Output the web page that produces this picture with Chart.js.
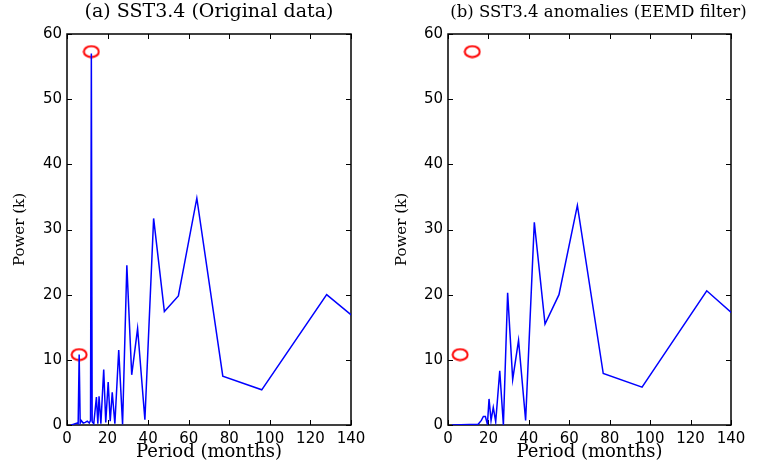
<!DOCTYPE html>
<html>
<head>
<meta charset="utf-8">
<script src="https://cdn.jsdelivr.net/npm/chart.js@4.4.0/dist/chart.umd.min.js"></script>
<style>
body { margin: 0; background: #fff; }
#wrap { position: relative; width: 763px; height: 463px; overflow: hidden; }
canvas { position: absolute; top: 0; }
</style>
</head>
<body>
<div id="wrap">
  <canvas id="chartA" width="418" height="463" style="left:0px"></canvas>
  <canvas id="chartB" width="413" height="463" style="left:392px"></canvas>
</div>
<script>
// Panel (a): original data
var periodsA = [2, 3, 4, 5, 5.5, 6, 6.5, 7, 8, 9, 10, 11, 11.6, 12, 12.4, 13.2, 14.5, 15.2, 15.8, 16.7,
    18.1, 19.1, 20.3, 21.3, 22.3, 23.6, 25.5, 27.4, 29.5, 31.9, 34.8, 38.4, 42.7, 48, 54.9, 64, 76.8, 96, 128, 192];
var powerA = [0, 0.1, 0.2, 0.3, 0.2, 10.8, 0.3, 0.7, 0.3, 0.4, 0.6, 0.3, 0.7, 57.0, 0.5, 0.2, 4.3, 0.2, 4.4, 0.2,
    8.5, 0.4, 6.6, 0.6, 5.0, 0.2, 11.5, 0.1, 24.5, 7.7, 14.8, 0.8, 31.7, 17.4, 19.8, 34.8, 7.5, 5.4, 20.0, 3.5];

// Panel (b): anomalies after EEMD filter
var periodsB = [2, 14.9, 16.5, 17.5, 18.5, 19.5, 20.3, 21.3, 22.4, 23.6, 25.6, 27.4, 29.5, 32, 34.9, 38.4,
    42.7, 48, 54.9, 64, 76.8, 96, 128, 192];
var powerB = [0, 0.1, 0.7, 1.3, 1.3, 0.1, 4.0, 0.7, 2.7, 0.5, 8.3, 0, 20.3, 7.0, 13.0, 0.7,
    31.1, 15.5, 20.0, 33.7, 7.9, 5.8, 20.6, 3.0];

// Red markers (semiannual and annual peaks)
var markPeriods = [12, 6];
var markPower = [57.3, 10.8];

var titleA = '(a) SST3.4 (Original data)';
var titleB = '(b) SST3.4 anomalies (EEMD filter)';
var xTitle = 'Period (months)';
var yTitle = 'Power (k)';

// ellipse used as point style for the markers
function makeEllipse() {
    var c = document.createElement('canvas');
    c.width = 18;
    c.height = 14;
    var g = c.getContext('2d');
    g.strokeStyle = '#ff0000';
    g.lineWidth = 2;
    g.beginPath();
    g.ellipse(9, 7, 7.5, 5.5, 0, 0, Math.PI * 2);
    g.stroke();
    return c;
}

// MATLAB style box with inward ticks
var boxTicks = {
    id: 'boxTicks',
    beforeDatasetsDraw: function(chart) {
        var ctx = chart.ctx;
        var a = chart.chartArea;
        var xs = chart.scales.x;
        var ys = chart.scales.y;
        ctx.save();
        ctx.strokeStyle = '#000';
        ctx.lineWidth = 1.5;
        ctx.strokeRect(a.left, a.top, a.right - a.left, a.bottom - a.top);
        ctx.lineWidth = 1;
        ctx.beginPath();
        xs.ticks.forEach(function(t) {
            var px = Math.round(xs.getPixelForValue(t.value)) + 0.5;
            ctx.moveTo(px, a.bottom); ctx.lineTo(px, a.bottom - 5);
            ctx.moveTo(px, a.top); ctx.lineTo(px, a.top + 5);
        });
        ys.ticks.forEach(function(t) {
            var py = Math.round(ys.getPixelForValue(t.value)) + 0.5;
            ctx.moveTo(a.left, py); ctx.lineTo(a.left + 5, py);
            ctx.moveTo(a.right, py); ctx.lineTo(a.right - 5, py);
        });
        ctx.stroke();
        ctx.restore();
    }
};

var serif = 'DejaVu Serif';
var sans = 'DejaVu Sans';

// leftW: room for y ticks + title, rightW: empty room right of the plot
function createPanel(id, title, titleSize, periods, power, leftW, rightW, yTitlePad) {
    var canvas = document.getElementById(id);
    var ellipse = makeEllipse();
    var lineData = periods.map(function(p, i) { return { x: p, y: power[i] }; });
    var markData = markPeriods.map(function(p, i) { return { x: p, y: markPower[i] }; });
    // keep the plot top at the same height whatever the title size
    var titleLine = titleSize * 1.2;
    var padTop = (22.8 - titleLine) / 2 + 1;
    var padBottom = 34 - titleLine - padTop;

    new Chart(canvas, {
        type: 'line',
        data: {
            datasets: [
                {
                    data: lineData,
                    borderColor: '#0000ff',
                    borderWidth: 1.5,
                    pointRadius: 0,
                    tension: 0,
                    fill: false
                },
                {
                    type: 'scatter',
                    data: markData,
                    pointStyle: ellipse,
                    pointRadius: 8,
                    showLine: false
                }
            ]
        },
        options: {
            responsive: false,
            animation: false,
            devicePixelRatio: 1,
            layout: { padding: 0 },
            plugins: {
                legend: { display: false },
                tooltip: { enabled: false },
                title: {
                    display: true,
                    text: title,
                    color: '#000',
                    font: { family: serif, size: titleSize, weight: 'normal', lineHeight: 1.2 },
                    padding: { top: padTop, bottom: padBottom }
                }
            },
            scales: {
                x: {
                    type: 'linear',
                    min: 0,
                    max: 140,
                    grid: { display: false, drawTicks: false },
                    border: { display: false },
                    ticks: { stepSize: 20, color: '#000', padding: 5, maxRotation: 0,
                        font: { family: sans, size: 15 } },
                    title: { display: true, text: xTitle, color: '#000',
                        font: { family: serif, size: 18, lineHeight: 1.2 },
                        padding: { top: 0, bottom: 0 } },
                    afterFit: function(scale) { scale.height = 38; }
                },
                y: {
                    min: 0,
                    max: 60,
                    grid: { display: false, drawTicks: false },
                    border: { display: false },
                    ticks: { stepSize: 10, color: '#000', padding: 5,
                        font: { family: sans, size: 15 } },
                    title: { display: true, text: yTitle, color: '#000',
                        font: { family: serif, size: 15, lineHeight: 1.2 },
                        padding: { top: yTitlePad, bottom: 0 } },
                    afterFit: function(scale) { scale.width = leftW; }
                },
                // empty spacer on the right so the title can center over the plot
                spacer: {
                    position: 'right',
                    grid: { display: false, drawTicks: false },
                    border: { display: false },
                    ticks: { display: false },
                    afterFit: function(scale) { scale.width = rightW; }
                }
            }
        },
        plugins: [boxTicks]
    });
}

document.addEventListener('DOMContentLoaded', function() {
    createPanel('chartA', titleA, 19, periodsA, powerA, 67, 67, 11);
    createPanel('chartB', titleB, 16.5, periodsB, powerB, 56, 74, 1);
});
</script>
</body>
</html>
